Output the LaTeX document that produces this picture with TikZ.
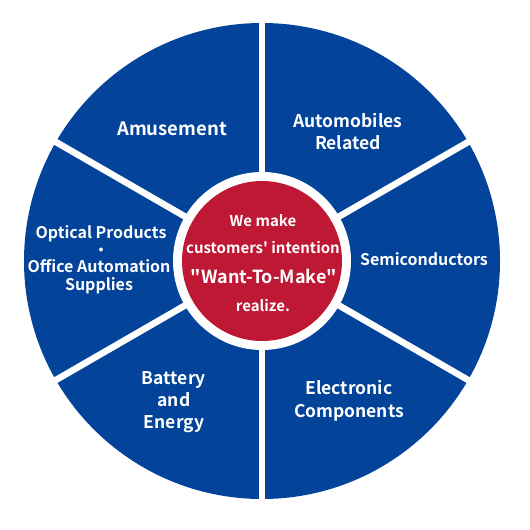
\documentclass[tikz,border=0pt]{standalone}
\usepackage{fontspec}
\setmainfont{Noto Sans CJK JP}[BoldFont={Noto Sans CJK JP Bold},Ligatures=TeXOff]
\definecolor{wheelblue}{HTML}{03449A}
\definecolor{hubred}{HTML}{BE1834}
\begin{document}
\begin{tikzpicture}[x=1pt,y=-1pt,
  lab/.style={text=white,font=\bfseries\fontsize{17.5}{22}\selectfont,align=center,inner sep=0pt},
  hub/.style={text=white,font=\bfseries\fontsize{15}{18}\selectfont,align=center,inner sep=0pt},
  gap/.style={draw=white,line width=6.5pt}]
\useasboundingbox (0,0) rectangle (530,530);
\coordinate (c) at (262,261);
\fill[wheelblue] (c) circle[radius=238];
\foreach \a in {90,30,-30,-90,-150,150}
  \draw[gap] (c) -- ++(\a:245);
\fill[white] (c) circle[radius=89];
\node[circle,fill=hubred,minimum size=160pt,inner sep=0pt] (h) at (c) {};
\node[hub] (h1) at (263,221) {We make};
\node[hub] (h2) at (263,248) {customers' intention};
\node[hub,font=\bfseries\fontsize{18}{22}\selectfont] (h3) at (264,276) {"Want-To-Make"};
\node[hub] (h4) at (263,306) {realize.};
\node[lab,font=\bfseries\fontsize{18.5}{22}\selectfont] (amu) at (172,129) {Amusement};
\node[lab] (auto) at (348,132) {Automobiles\\Related};
\node[lab,font=\bfseries\fontsize{16}{20}\selectfont] (semi) at (424,259) {Semiconductors};
\node[lab,font=\bfseries\fontsize{17.5}{23}\selectfont] (elec) at (349,401) {Electronic\\Components};
\node[lab] (batt) at (174,402) {Battery\\and\\Energy};
\node[lab,font=\bfseries\fontsize{16}{18}\selectfont] (opt1) at (101,234) {Optical Products};
\node[lab,font=\fontsize{10}{10}\selectfont] (dot) at (101,250) {$\bullet$};
\node[lab,font=\bfseries\fontsize{16}{18}\selectfont] (opt2) at (99,277) {Office Automation\\Supplies};
\end{tikzpicture}
\end{document}
